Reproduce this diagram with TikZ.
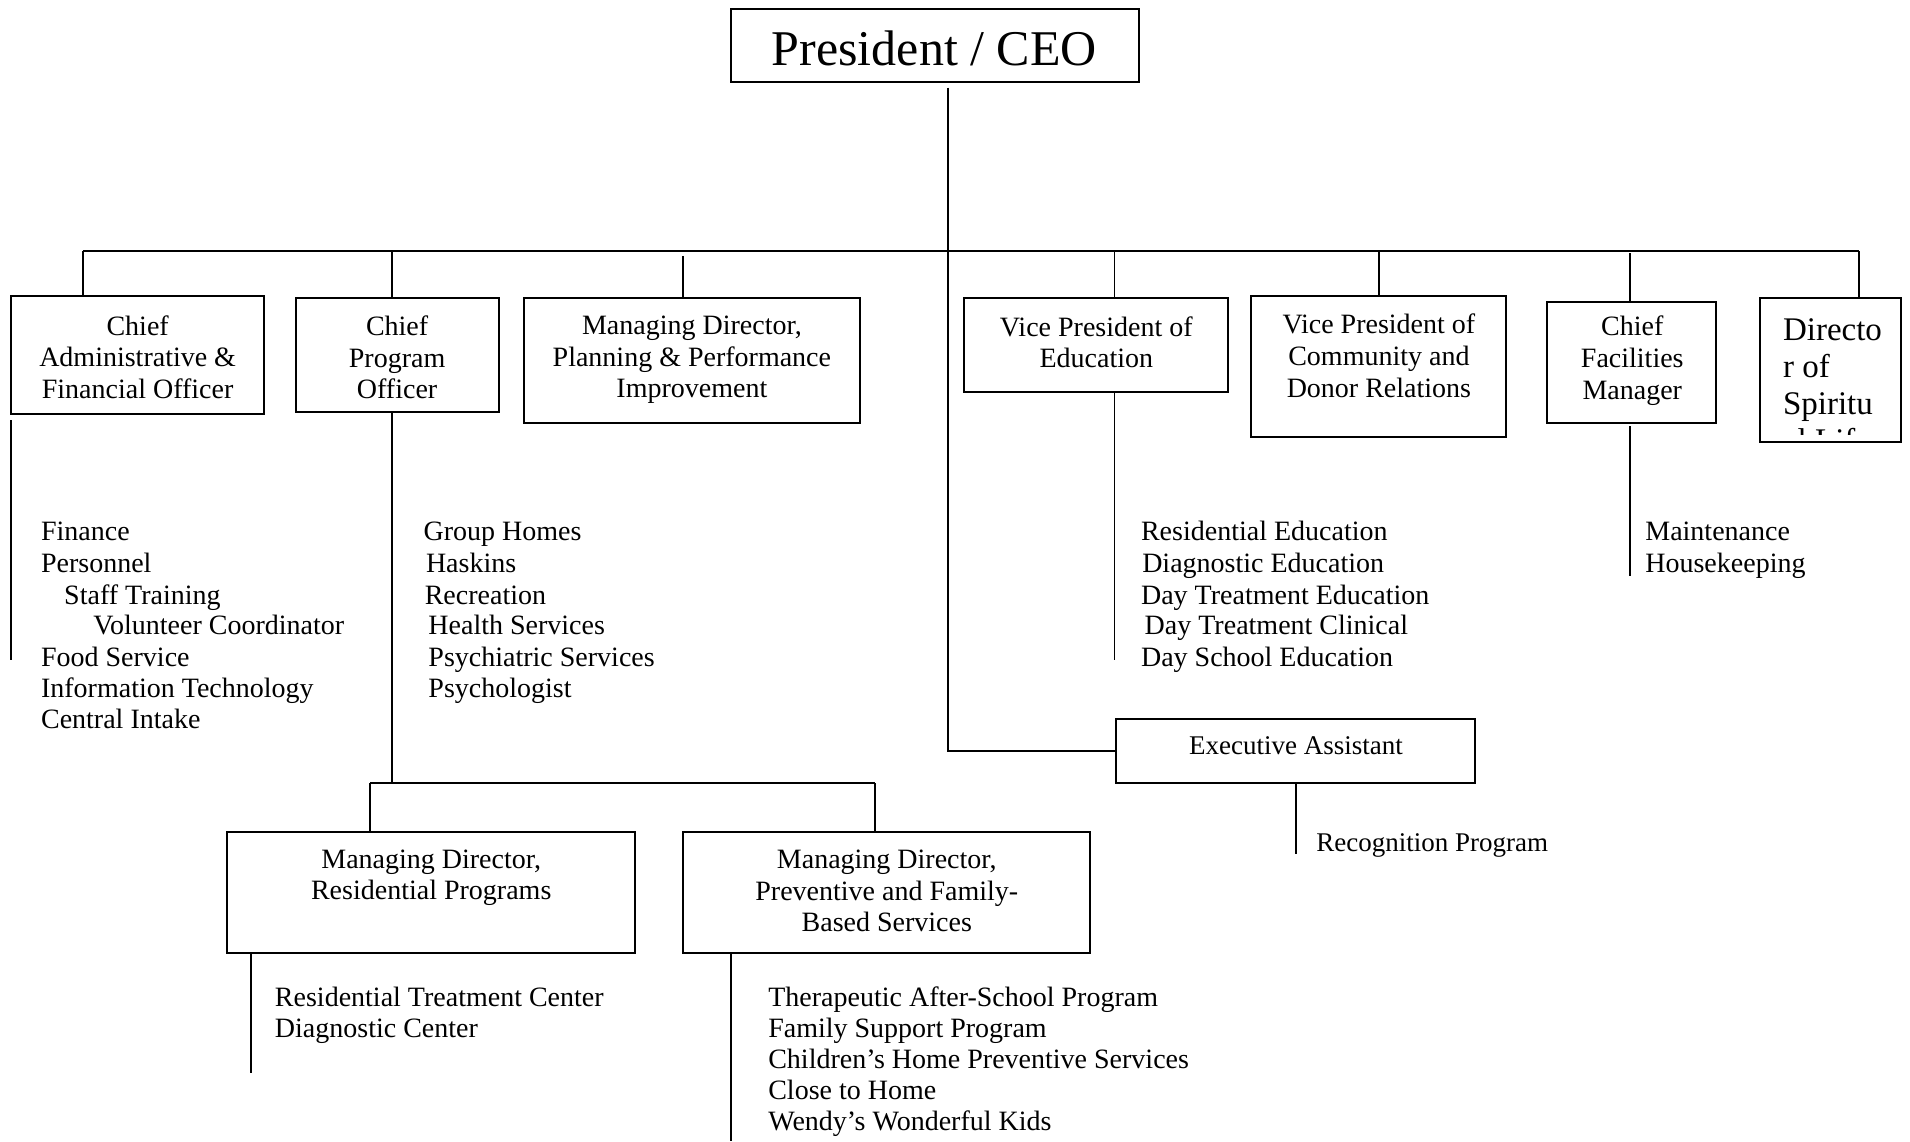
\documentclass[tikz,border=0pt]{standalone}
\usepackage{fontspec}
\setmainfont{Liberation Serif}
\usetikzlibrary{fit}
\begin{document}
\begin{tikzpicture}[x=1.2181pt,y=-1.2181pt,
  line width=1.8pt,
  box/.style={draw, line width=2pt, inner sep=0pt},
  ttl/.style={align=center, inner sep=0pt, font=\fontsize{28}{31.6}\selectfont},
  item/.style={anchor=base west, inner sep=0pt, font=\fontsize{28}{31.6}\selectfont},
]
\useasboundingbox[fill=white] (0,0) rectangle (1568,937);

% boxes
\node[box, fit={(600,7) (935,67)}] (pres) {};
\node[box, fit={(9,243) (217,340)}] (cafo) {};
\node[box, fit={(243,245) (410,338)}] (cpo) {};
\node[box, fit={(430,245) (706,347)}] (mdpl) {};
\node[box, fit={(791,245) (1008,322)}] (vpe) {};
\node[box, fit={(1027,243) (1236,359)}] (vpc) {};
\node[box, fit={(1270,248) (1409,347)}] (cfm) {};
\node[box, fit={(1445,245) (1561,363)}] (dsl) {};
\node[box, fit={(916,590) (1211,643)}] (exa) {};
\node[box, fit={(186,683) (521,782)}] (mdr) {};
\node[box, fit={(561,683) (895,782)}] (mdp) {};

% box titles
\node[ttl, font=\fontsize{50}{56}\selectfont] (presT) at (767,40) {President / CEO};
\node[ttl] (cafoT) at (113,293) {Chief\\Administrative \&\\Financial Officer};
\node[ttl] (cpoT) at (326,293.5) {Chief\\Program\\Officer};
\node[ttl] (mdplT) at (568,295.5) {Managing Director,\\Planning \& Performance\\Improvement};
\node[ttl] (vpeT) at (900,281) {Vice President of\\Education};
\node[ttl] (vpcT) at (1132,292) {Vice President of\\Community and\\Donor Relations};
\node[ttl] (cfmT) at (1340,296) {Chief\\Facilities\\Manager};
\node[ttl, font=\fontsize{27}{31.6}\selectfont] (exaT) at (1064,612) {Executive Assistant};
\node[ttl] (mdrT) at (354,720.5) {Managing Director,\\Residential Programs};
\node[ttl] (mdpT) at (728,731.5) {Managing Director,\\Preventive and Family-\\Based Services};
\begin{scope}
  \clip (1446,246) rectangle (1560,357);
  \node[align=left, inner sep=0pt, anchor=west, font=\fontsize{33}{37}\selectfont] (dslT) at (1463,316.5) {Directo\\r of\\Spiritu\\al Life};
\end{scope}

% connectors
\coordinate (top) at (778,72);
\coordinate (busL) at (68,206);
\coordinate (busR) at (1526,206);
\coordinate (b2) at (322,206);
\coordinate (b3) at (561,210);
\coordinate (b4) at (915,206);
\coordinate (b5) at (1132,206);
\coordinate (b6) at (1338,208);
\draw (top) |- (exa.west);
\draw (busL) -- (busR);
\draw (busL) -- (busL |- cafo.north);
\draw (b2) -- (b2 |- cpo.north);
\draw (b3) -- (b3 |- mdpl.north);
\draw (b4) -- (b4 |- vpe.north);
\draw (b5) -- (b5 |- vpc.north);
\draw (b6) -- (b6 |- cfm.north);
\draw (busR) -- (busR |- dsl.north);

% lines below boxes
\coordinate (cafoA) at (9,345);
\coordinate (cafoB) at (9,542);
\draw (cafoA) -- (cafoB);
\coordinate (hJ) at (322,643);
\coordinate (hL) at (304,643);
\coordinate (hR) at (718,643);
\draw (hJ |- cpo.south) -- (hJ);
\draw (hL) -- (hR);
\draw (hL) -- (hL |- mdr.north);
\draw (hR) -- (hR |- mdp.north);
\coordinate (vpeB) at (915,542);
\draw (vpeB |- vpe.south) -- (vpeB);
\coordinate (cfmA) at (1338,350);
\coordinate (cfmB) at (1338,473);
\draw (cfmA) -- (cfmB);
\coordinate (exaB) at (1064,701);
\draw (exaB |- exa.south) -- (exaB);
\coordinate (mdrB) at (206,881);
\draw (mdrB |- mdr.south) -- (mdrB);
\coordinate (mdpB) at (600,937);
\draw (mdpB |- mdp.south) -- (mdpB);

% lists
\node[item] (a1) at (33,444) {Finance};
\node[item] (a2) at (33,470) {Personnel};
\node[item] (a3) at (52,496) {Staff Training};
\node[item] (a4) at (76,521) {Volunteer Coordinator};
\node[item] (a5) at (33,547) {Food Service};
\node[item] (a6) at (33,573) {Information Technology};
\node[item] (a7) at (33,598) {Central Intake};

\node[item] (p1) at (347,444) {Group Homes};
\node[item] (p2) at (349,470) {Haskins};
\node[item] (p3) at (348,496) {Recreation};
\node[item] (p4) at (351,521) {Health Services};
\node[item] (p5) at (351,547) {Psychiatric Services};
\node[item] (p6) at (351,573) {Psychologist};

\node[item] (e1) at (936,444) {Residential Education};
\node[item] (e2) at (937,470) {Diagnostic Education};
\node[item] (e3) at (936,496) {Day Treatment Education};
\node[item] (e4) at (939,521) {Day Treatment Clinical};
\node[item] (e5) at (936,547) {Day School Education};

\node[item] (f1) at (1350,444) {Maintenance};
\node[item] (f2) at (1350,470) {Housekeeping};

\node[item, font=\fontsize{27}{31.6}\selectfont] (g1) at (1080,699) {Recognition Program};

\node[item] (r1) at (225,826) {Residential Treatment Center};
\node[item] (r2) at (225,852) {Diagnostic Center};

\node[item] (s1) at (630,826) {Therapeutic After-School Program};
\node[item] (s2) at (630,852) {Family Support Program};
\node[item] (s3) at (630,877) {Children’s Home Preventive Services};
\node[item] (s4) at (630,903) {Close to Home};
\node[item] (s5) at (630,928) {Wendy’s Wonderful Kids};
\end{tikzpicture}
\end{document}
